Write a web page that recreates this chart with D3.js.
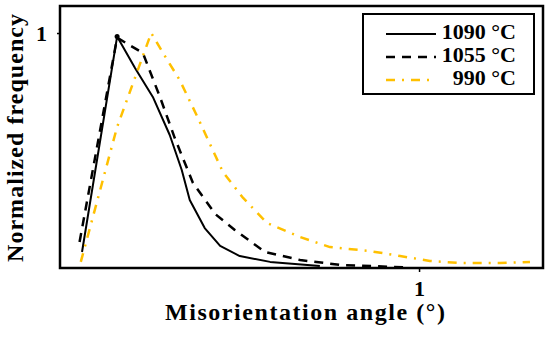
<!DOCTYPE html>
<html>
<head>
<meta charset="utf-8">
<script src="https://cdn.jsdelivr.net/npm/d3@7"></script>
<style>
  body { margin: 0; background: #fff; }
  svg text { font-family: "Liberation Serif", "Times New Roman", serif; font-weight: bold; fill: #000; }
</style>
</head>
<body>
<div id="chart"></div>
<script>
// misorientation angle (deg) vs normalized frequency
var angle1090 = [0.142, 0.174, 0.193, 0.214, 0.236, 0.253, 0.265, 0.289, 0.316, 0.354, 0.422, 0.563];
var freq1090  = [0.068, 0.985, 0.851, 0.728, 0.566, 0.417, 0.289, 0.170, 0.094, 0.051, 0.026, 0.009];

var angle1055 = [0.140, 0.174, 0.202, 0.223, 0.243, 0.270, 0.307, 0.344, 0.410, 0.502, 0.633, 0.949];
var freq1055  = [0.111, 0.980, 0.915, 0.728, 0.553, 0.362, 0.230, 0.162, 0.068, 0.034, 0.013, 0.002];

var angle990 = [0.141, 0.174, 0.212, 0.227, 0.250, 0.278, 0.321, 0.361, 0.415, 0.502, 0.597, 0.753, 0.896, 1.065, 1.267, 1.598, 1.901];
var freq990  = [0.026, 0.600, 1.000, 0.915, 0.800, 0.638, 0.409, 0.298, 0.191, 0.132, 0.089, 0.072, 0.051, 0.030, 0.021, 0.021, 0.026];

var seriesNames = ['1090 °C', '1055 °C', '990 °C'];
var xTicks = [1];
var yTicks = [1];

function plotMisorientation() {
  let width = 550, height = 337;
  let left = 60, right = 543, top = 6, bottom = 268;

  let svg = d3.select('#chart')
    .append('svg')
    .attr('width', width)
    .attr('height', height);

  let x = d3.scaleLog().domain([0.125, 2.05]).range([left, right]);
  let y = d3.scaleLinear().domain([0, 1.115]).range([bottom, top]);

  let series = [
    { name: seriesNames[0], xs: angle1090, ys: freq1090, color: '#000', dash: null, w: 2 },
    { name: seriesNames[1], xs: angle1055, ys: freq1055, color: '#000', dash: '9,7', w: 2.5 },
    { name: seriesNames[2], xs: angle990, ys: freq990, color: '#FFC000', dash: '9,7,2,7', w: 2.5 }
  ];

  let line = d3.line()
    .x(d => x(d[0]))
    .y(d => y(d[1]));

  svg.selectAll('path.curve')
    .data(series)
    .enter()
    .append('path')
    .attr('class', 'curve')
    .attr('d', s => line(d3.zip(s.xs, s.ys)))
    .attr('fill', 'none')
    .attr('stroke', s => s.color)
    .attr('stroke-width', s => s.w)
    .attr('stroke-dasharray', s => s.dash)
    .attr('stroke-linejoin', 'round');

  // dot at the 1090 peak
  let pk = d3.maxIndex(freq1090);
  svg.append('circle')
    .attr('cx', x(angle1090[pk]))
    .attr('cy', y(freq1090[pk]))
    .attr('r', 2.5)
    .attr('fill', '#000');

  // axes (ticks only), frame drawn separately
  let xAxis = svg.append('g')
    .attr('transform', 'translate(0,' + bottom + ')')
    .call(d3.axisBottom(x).tickValues(xTicks).tickSize(4).tickPadding(8).tickFormat(d3.format('d')));
  let yAxis = svg.append('g')
    .attr('transform', 'translate(' + left + ',0)')
    .call(d3.axisLeft(y).tickValues(yTicks).tickSize(3).tickPadding(10).tickFormat(d3.format('d')));
  [xAxis, yAxis].forEach(a => {
    a.select('.domain').remove();
    a.selectAll('line').attr('stroke', '#000').attr('stroke-width', 1.5);
    a.selectAll('text')
      .style('font-family', '"Liberation Serif", serif')
      .style('font-weight', 'bold')
      .style('font-size', '22px')
      .attr('fill', '#000');
  });

  svg.append('rect')
    .attr('x', left)
    .attr('y', top)
    .attr('width', right - left)
    .attr('height', bottom - top)
    .attr('fill', 'none')
    .attr('stroke', '#000')
    .attr('stroke-width', 2.5);

  // axis titles
  svg.append('text')
    .attr('x', 305)
    .attr('y', 320)
    .attr('text-anchor', 'middle')
    .attr('textLength', 280)
    .attr('lengthAdjust', 'spacing')
    .style('font-size', '24px')
    .text('Misorientation angle (°)');

  svg.append('text')
    .attr('transform', 'translate(23,138) rotate(-90)')
    .attr('text-anchor', 'middle')
    .attr('textLength', 248)
    .attr('lengthAdjust', 'spacing')
    .style('font-size', '24px')
    .text('Normalized frequency');

  // legend
  let lg = svg.append('g');
  lg.append('rect')
    .attr('x', 363).attr('y', 14)
    .attr('width', 171).attr('height', 80)
    .attr('fill', '#fff')
    .attr('stroke', '#000')
    .attr('stroke-width', 2);

  let rows = lg.selectAll('g.row')
    .data(series)
    .enter()
    .append('g')
    .attr('class', 'row')
    .attr('transform', (d, i) => 'translate(0,' + (39 + i * 23) + ')');

  rows.append('line')
    .attr('x1', 386).attr('x2', 436)
    .attr('y1', -5).attr('y2', -5)
    .attr('stroke', d => d.color)
    .attr('stroke-width', d => d.w)
    .attr('stroke-dasharray', d => d.dash);

  rows.append('text')
    .attr('x', 516)
    .attr('text-anchor', 'end')
    .style('font-size', '22px')
    .text(d => d.name);
}
plotMisorientation();
</script>
</body>
</html>
